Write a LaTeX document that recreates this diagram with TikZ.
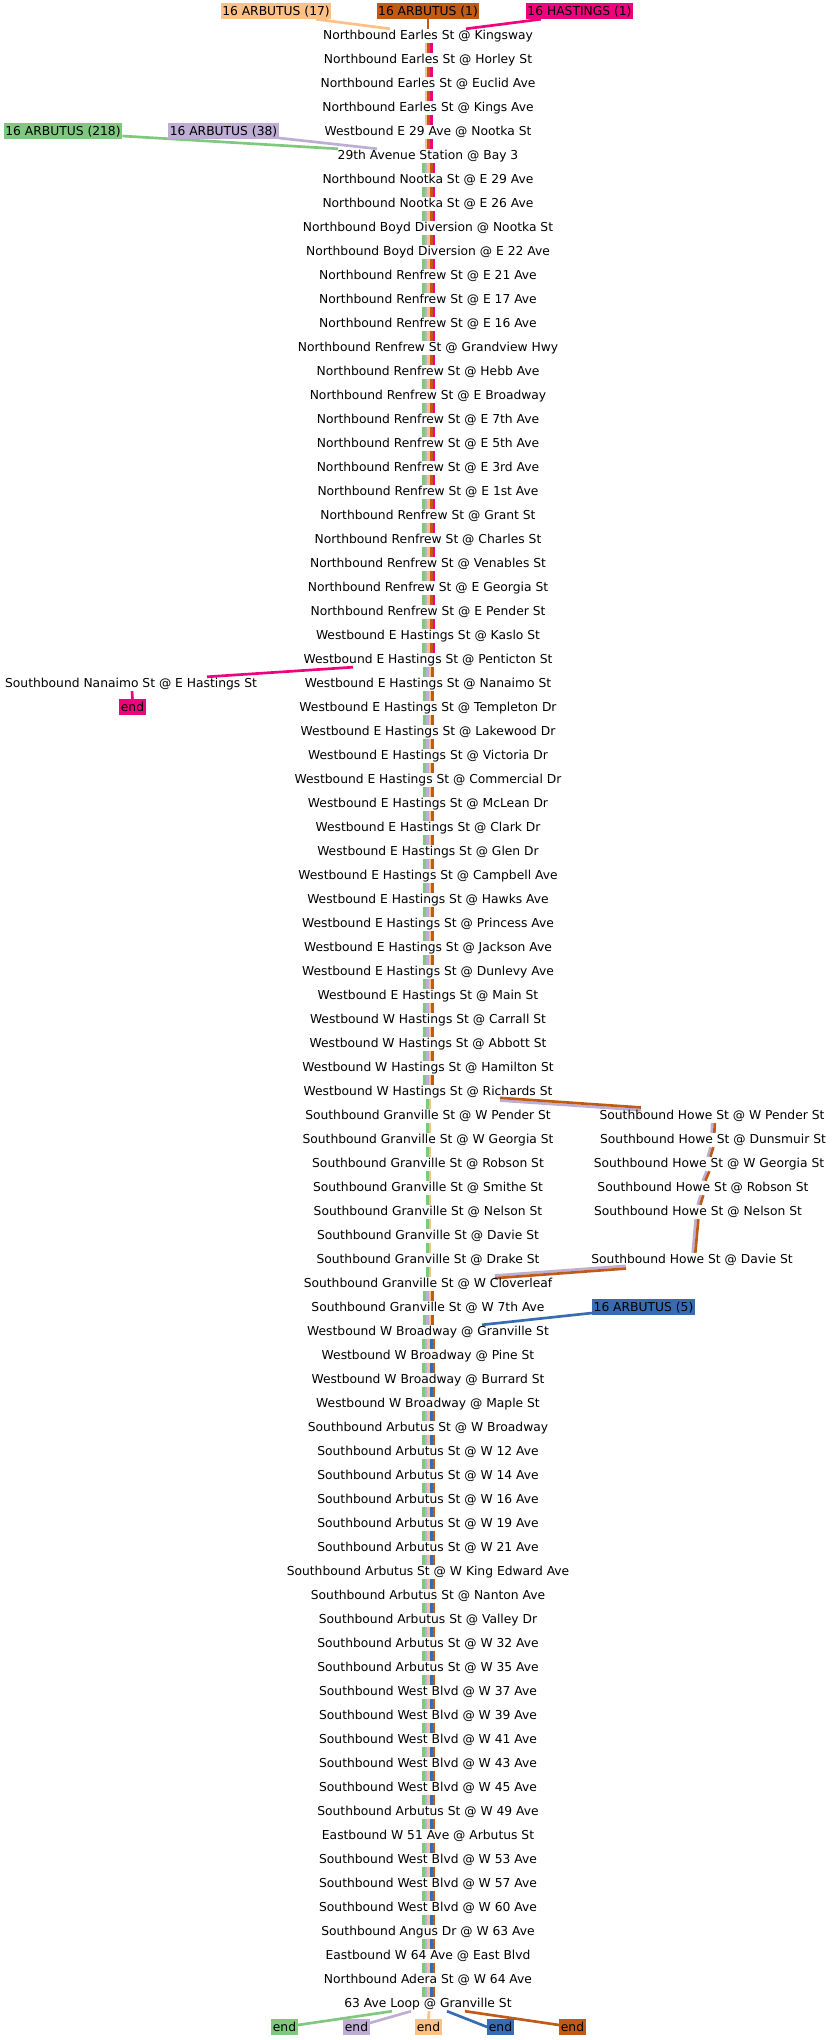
\documentclass[tikz,border=0pt]{standalone}
\usepackage{fontspec}
\setmainfont{DejaVu Sans}
\usetikzlibrary{backgrounds}
\definecolor{cgreen}{HTML}{7FC97F}
\definecolor{cpurple}{HTML}{BEAED4}
\definecolor{corange}{HTML}{FDC086}
\definecolor{cblue}{HTML}{386CB0}
\definecolor{cpink}{HTML}{F0027F}
\definecolor{cbrown}{HTML}{BF5B17}
\tikzset{
  stopnode/.style={anchor=base,inner sep=0pt,text height=10.5pt,text depth=3.5pt,font=\fontsize{12.3}{12.3}\selectfont,text=black},
  tagbox/.style={anchor=base,inner ysep=0pt,inner xsep=1.5pt,text height=12.5pt,text depth=3.5pt,font=\fontsize{12.3}{12.3}\selectfont,text=black,fill=#1},
  hop/.style={line width=2.67pt,draw=#1,line cap=butt},
}
\newcommand\gapset[4]{%
  \foreach \g in {#1,...,#2}{%
    \pgfmathtruncatemacro\h{\g+1}%
    \foreach \c [count=\i] in {#4}{%
      \pgfmathsetmacro\o{(\i-(#3+1)/2)*2.67+0.7}%
      \draw[hop=\c] ([xshift=\o pt]r\g.south) -- ([xshift=\o pt]r\h.north);
    }%
  }%
}
\begin{document}
\begin{tikzpicture}[x=1pt,y=-1pt]
\useasboundingbox (0,0) rectangle (832,2040);
\foreach \t [count=\k from 0] in {
Northbound Earles St @ Kingsway,
Northbound Earles St @ Horley St,
Northbound Earles St @ Euclid Ave,
Northbound Earles St @ Kings Ave,
Westbound E 29 Ave @ Nootka St,
29th Avenue Station @ Bay 3,
Northbound Nootka St @ E 29 Ave,
Northbound Nootka St @ E 26 Ave,
Northbound Boyd Diversion @ Nootka St,
Northbound Boyd Diversion @ E 22 Ave,
Northbound Renfrew St @ E 21 Ave,
Northbound Renfrew St @ E 17 Ave,
Northbound Renfrew St @ E 16 Ave,
Northbound Renfrew St @ Grandview Hwy,
Northbound Renfrew St @ Hebb Ave,
Northbound Renfrew St @ E Broadway,
Northbound Renfrew St @ E 7th Ave,
Northbound Renfrew St @ E 5th Ave,
Northbound Renfrew St @ E 3rd Ave,
Northbound Renfrew St @ E 1st Ave,
Northbound Renfrew St @ Grant St,
Northbound Renfrew St @ Charles St,
Northbound Renfrew St @ Venables St,
Northbound Renfrew St @ E Georgia St,
Northbound Renfrew St @ E Pender St,
Westbound E Hastings St @ Kaslo St,
Westbound E Hastings St @ Penticton St,
Westbound E Hastings St @ Nanaimo St,
Westbound E Hastings St @ Templeton Dr,
Westbound E Hastings St @ Lakewood Dr,
Westbound E Hastings St @ Victoria Dr,
Westbound E Hastings St @ Commercial Dr,
Westbound E Hastings St @ McLean Dr,
Westbound E Hastings St @ Clark Dr,
Westbound E Hastings St @ Glen Dr,
Westbound E Hastings St @ Campbell Ave,
Westbound E Hastings St @ Hawks Ave,
Westbound E Hastings St @ Princess Ave,
Westbound E Hastings St @ Jackson Ave,
Westbound E Hastings St @ Dunlevy Ave,
Westbound E Hastings St @ Main St,
Westbound W Hastings St @ Carrall St,
Westbound W Hastings St @ Abbott St,
Westbound W Hastings St @ Hamilton St,
Westbound W Hastings St @ Richards St,
Southbound Granville St @ W Pender St,
Southbound Granville St @ W Georgia St,
Southbound Granville St @ Robson St,
Southbound Granville St @ Smithe St,
Southbound Granville St @ Nelson St,
Southbound Granville St @ Davie St,
Southbound Granville St @ Drake St,
Southbound Granville St @ W Cloverleaf,
Southbound Granville St @ W 7th Ave,
Westbound W Broadway @ Granville St,
Westbound W Broadway @ Pine St,
Westbound W Broadway @ Burrard St,
Westbound W Broadway @ Maple St,
Southbound Arbutus St @ W Broadway,
Southbound Arbutus St @ W 12 Ave,
Southbound Arbutus St @ W 14 Ave,
Southbound Arbutus St @ W 16 Ave,
Southbound Arbutus St @ W 19 Ave,
Southbound Arbutus St @ W 21 Ave,
Southbound Arbutus St @ W King Edward Ave,
Southbound Arbutus St @ Nanton Ave,
Southbound Arbutus St @ Valley Dr,
Southbound Arbutus St @ W 32 Ave,
Southbound Arbutus St @ W 35 Ave,
Southbound West Blvd @ W 37 Ave,
Southbound West Blvd @ W 39 Ave,
Southbound West Blvd @ W 41 Ave,
Southbound West Blvd @ W 43 Ave,
Southbound West Blvd @ W 45 Ave,
Southbound Arbutus St @ W 49 Ave,
Eastbound W 51 Ave @ Arbutus St,
Southbound West Blvd @ W 53 Ave,
Southbound West Blvd @ W 57 Ave,
Southbound West Blvd @ W 60 Ave,
Southbound Angus Dr @ W 63 Ave,
Eastbound W 64 Ave @ East Blvd,
Northbound Adera St @ W 64 Ave,
63 Ave Loop @ Granville St}{
  \node[stopnode] (r\k) at (428,{39.5+24*\k}) {\t};
}
% side stops
\node[stopnode] (n27) at (131,687.5) {Southbound Nanaimo St @ E Hastings St};
\node[stopnode] (h45) at (712,1119.5) {Southbound Howe St @ W Pender St};
\node[stopnode] (h46) at (713,1143.5) {Southbound Howe St @ Dunsmuir St};
\node[stopnode] (h47) at (709,1167.5) {Southbound Howe St @ W Georgia St};
\node[stopnode] (h48) at (703,1191.5) {Southbound Howe St @ Robson St};
\node[stopnode] (h49) at (698,1215.5) {Southbound Howe St @ Nelson St};
\node[stopnode] (h51) at (692,1263.5) {Southbound Howe St @ Davie St};
% labels
\node[tagbox=corange] (t17) at (276,15.5) {16 ARBUTUS (17)};
\node[tagbox=cbrown] (t1) at (428,15.5) {16 ARBUTUS (1)};
\node[tagbox=cpink] (th1) at (579.5,15.5) {16 HASTINGS (1)};
\node[tagbox=cgreen] (t218) at (63,135.5) {16 ARBUTUS (218)};
\node[tagbox=cpurple] (t38) at (223.5,135.5) {16 ARBUTUS (38)};
\node[tagbox=cblue] (t5) at (643.5,1311.5) {16 ARBUTUS (5)};
\node[tagbox=cpink] (epink) at (132.5,711.5) {end};
\node[tagbox=cgreen] (e1) at (284.5,2031.5) {end};
\node[tagbox=cpurple] (e2) at (356.5,2031.5) {end};
\node[tagbox=corange] (e3) at (428.5,2031.5) {end};
\node[tagbox=cblue] (e4) at (500.5,2031.5) {end};
\node[tagbox=cbrown] (e5) at (572.5,2031.5) {end};
\begin{pgfonlayer}{background}
\fill[white] (0,0) rectangle (832,2040);
\gapset{0}{4}{3}{corange,cbrown,cpink}
\gapset{5}{25}{5}{cgreen,cpurple,corange,cbrown,cpink}
\gapset{26}{43}{4}{cgreen,cpurple,corange,cbrown}
\gapset{44}{51}{2}{cgreen,corange}
\gapset{52}{53}{4}{cgreen,cpurple,corange,cbrown}
\gapset{54}{81}{5}{cgreen,cpurple,corange,cblue,cbrown}
% starts
\draw[hop=corange] ([xshift=40pt]t17.south) -- ([xshift=-38pt]r0.north);
\draw[hop=cbrown] (t1.south) -- (r0.north);
\draw[hop=cpink] ([xshift=-38.5pt]th1.south) -- ([xshift=38pt]r0.north);
\draw[hop=cgreen] ([yshift=-5pt]t218.east) -- ([xshift=-90pt]r5.north);
\draw[hop=cpurple] ([yshift=-7pt]t38.east) -- ([xshift=-51pt]r5.north);
\draw[hop=cblue] ([yshift=-6pt]t5.west) -- ([xshift=54pt]r54.north);
% Nanaimo branch
\draw[hop=cpink] ([xshift=-75pt]r26.south) -- ([xshift=76pt]n27.north);
\draw[hop=cpink] ([xshift=1pt]n27.south) -- (epink.north);
% Howe branch
\draw[hop=cpurple] ([xshift=72pt,yshift=-1.33pt]r44.south) -- ([xshift=-71pt,yshift=-1.33pt]h45.north);
\draw[hop=cbrown] ([xshift=72pt,yshift=1.33pt]r44.south) -- ([xshift=-71pt,yshift=1.33pt]h45.north);
\foreach \a/\b/\da/\db in {h45/h46/1.5/0,h46/h47/-1/0,h47/h48/-1/1,h48/h49/-1/1,h49/h51/-1/2}{
  \pgfmathsetmacro\pa{\da-1.33}\pgfmathsetmacro\pb{\db-1.33}
  \pgfmathsetmacro\qa{\da+1.33}\pgfmathsetmacro\qb{\db+1.33}
  \draw[hop=cpurple] ([xshift=\pa pt]\a.south) -- ([xshift=\pb pt]\b.north);
  \draw[hop=cbrown] ([xshift=\qa pt]\a.south) -- ([xshift=\qb pt]\b.north);
}
\draw[hop=cpurple] ([xshift=-66pt,yshift=1.33pt]h51.south) -- ([xshift=67pt,yshift=1.33pt]r52.north);
\draw[hop=cbrown] ([xshift=-66pt,yshift=-1.33pt]h51.south) -- ([xshift=67pt,yshift=-1.33pt]r52.north);
% ends
\draw[hop=cgreen] ([xshift=-36pt]r82.south) -- ([yshift=2pt]e1.east);
\draw[hop=cpurple] ([xshift=-17pt]r82.south) -- ([yshift=4pt]e2.east);
\draw[hop=corange] ([xshift=1pt]r82.south) -- (e3.north);
\draw[hop=cblue] ([xshift=19pt]r82.south) -- (e4.west);
\draw[hop=cbrown] ([xshift=37pt]r82.south) -- ([yshift=2pt]e5.west);
\end{pgfonlayer}
\end{tikzpicture}
\end{document}
